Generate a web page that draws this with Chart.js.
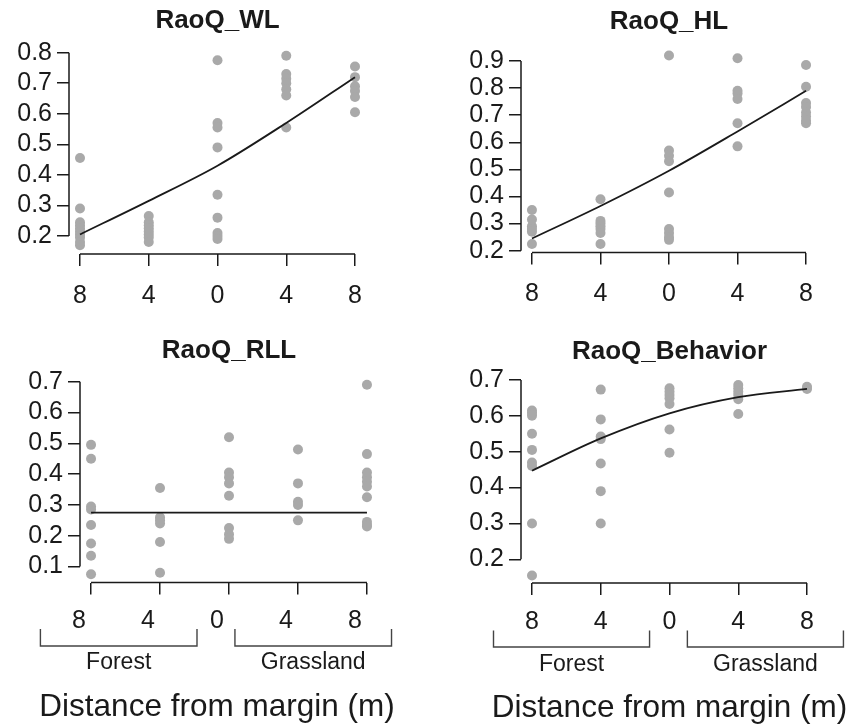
<!DOCTYPE html>
<html><head><meta charset="utf-8">
<script src="https://cdn.jsdelivr.net/npm/chart.js@4/dist/chart.umd.min.js"></script>
<style>
html,body{margin:0;padding:0;background:#fff;width:850px;height:728px;overflow:hidden}
.p{position:absolute}
canvas{display:block}
</style></head><body>
<div class="p" style="left:0;top:0"><canvas id="c1" width="425" height="310"></canvas></div>
<div class="p" style="left:425px;top:0"><canvas id="c2" width="425" height="310"></canvas></div>
<div class="p" style="left:0;top:310px"><canvas id="c3" width="425" height="418"></canvas></div>
<div class="p" style="left:425px;top:310px"><canvas id="c4" width="425" height="418"></canvas></div>
<script>
// ---- data ----
const positions = [1, 2, 3, 4, 5];
const xTickLabels = ['8', '4', '0', '4', '8'];
const groupLabels = ['Forest', 'Grassland'];
const forestSpan = [0.44, 2.71];
const grassSpan = [3.26, 5.53];
const axisTitle = 'Distance from margin (m)';

const wlTitle = 'RaoQ_WL';
const wlTicks = [0.2, 0.3, 0.4, 0.5, 0.6, 0.7, 0.8];
const wlRange = [0.141, 0.817];
const wlPoints = [
  [0.455, 0.29, 0.245, 0.235, 0.225, 0.215, 0.205, 0.195, 0.18, 0.17],
  [0.265, 0.245, 0.235, 0.225, 0.215, 0.205, 0.195, 0.18],
  [0.775, 0.57, 0.555, 0.49, 0.335, 0.26, 0.21, 0.2, 0.19],
  [0.79, 0.73, 0.715, 0.7, 0.68, 0.66, 0.555],
  [0.755, 0.72, 0.69, 0.675, 0.655, 0.605]
];
const wlFit = [0.205, 0.315, 0.43, 0.57, 0.72];

const hlTitle = 'RaoQ_HL';
const hlTicks = [0.2, 0.3, 0.4, 0.5, 0.6, 0.7, 0.8, 0.9];
const hlRange = [0.193, 0.948];
const hlPoints = [
  [0.35, 0.315, 0.29, 0.28, 0.27, 0.225],
  [0.39, 0.31, 0.3, 0.29, 0.28, 0.265, 0.225],
  [0.92, 0.57, 0.55, 0.53, 0.415, 0.28, 0.265, 0.25, 0.24],
  [0.91, 0.79, 0.78, 0.76, 0.67, 0.585],
  [0.885, 0.805, 0.745, 0.73, 0.71, 0.695, 0.68, 0.67]
];
const hlFit = [0.245, 0.365, 0.495, 0.64, 0.79];

const rllTitle = 'RaoQ_RLL';
const rllTicks = [0.1, 0.2, 0.3, 0.4, 0.5, 0.6, 0.7];
const rllRange = [0.048, 0.712];
const rllPoints = [
  [0.495, 0.45, 0.295, 0.285, 0.235, 0.175, 0.135, 0.075],
  [0.355, 0.26, 0.25, 0.24, 0.18, 0.08],
  [0.52, 0.405, 0.39, 0.37, 0.33, 0.225, 0.205, 0.19],
  [0.48, 0.37, 0.31, 0.3, 0.25],
  [0.69, 0.465, 0.405, 0.39, 0.375, 0.36, 0.325, 0.245, 0.235, 0.23]
];
const rllFit = [0.275, 0.275, 0.275, 0.275, 0.275];

const behTitle = 'RaoQ_Behavior';
const behTicks = [0.2, 0.3, 0.4, 0.5, 0.6, 0.7];
const behRange = [0.134, 0.707];
const behPoints = [
  [0.615, 0.608, 0.6, 0.55, 0.505, 0.47, 0.46, 0.3, 0.155],
  [0.673, 0.59, 0.542, 0.535, 0.467, 0.39, 0.3],
  [0.677, 0.667, 0.658, 0.649, 0.633, 0.562, 0.497],
  [0.686, 0.677, 0.667, 0.658, 0.646, 0.605],
  [0.681, 0.675]
];
const behFit = [0.447, 0.537, 0.607, 0.652, 0.675];

// ---- drawing ----
const FONT = "'Liberation Sans', Arial, Helvetica, sans-serif";
const INK = '#1a1a1a';
const DOT = '#a9a9a9';
const TITLE_SIZE = 26;
const TITLE_LH = TITLE_SIZE * 1.2;

const rAxes = {
  id: 'rAxes',
  beforeDatasetsDraw(chart, args, o) {
    const {ctx, chartArea} = chart;
    const xs = chart.scales.x, ys = chart.scales.y;
    ctx.save();
    ctx.strokeStyle = INK;
    ctx.lineWidth = 1.5;
    ctx.beginPath();
    ctx.moveTo(chartArea.left, ys.getPixelForValue(o.yTicks[0]));
    ctx.lineTo(chartArea.left, ys.getPixelForValue(o.yTicks[o.yTicks.length - 1]));
    ctx.moveTo(xs.getPixelForValue(positions[0]), chartArea.bottom);
    ctx.lineTo(xs.getPixelForValue(positions[positions.length - 1]), chartArea.bottom);
    ctx.stroke();
    ctx.restore();
  },
  afterDraw(chart, args, o) {
    if (!o.groups) return;
    const {ctx} = chart;
    const xs = chart.scales.x;
    const g = o.g;
    const px = v => xs.getPixelForValue(v) + g.shift;
    ctx.save();
    ctx.strokeStyle = '#444';
    ctx.lineWidth = 1.4;
    [forestSpan, grassSpan].forEach(span => {
      const a = px(span[0]), b = px(span[1]);
      ctx.beginPath();
      ctx.moveTo(a, g.brTop); ctx.lineTo(a, g.brBot); ctx.lineTo(b, g.brBot); ctx.lineTo(b, g.brTop);
      ctx.stroke();
    });
    ctx.fillStyle = INK;
    ctx.textAlign = 'center';
    ctx.textBaseline = 'middle';
    ctx.font = '23px ' + FONT;
    ctx.fillText(groupLabels[0], px((forestSpan[0] + forestSpan[1]) / 2), g.grpY);
    ctx.fillText(groupLabels[1], px((grassSpan[0] + grassSpan[1]) / 2), g.grpY);
    ctx.font = '31.5px ' + FONT;
    ctx.fillText(axisTitle, px(positions[2]), g.axY);
    ctx.restore();
  }
};

function makePanel(id, title, points, fit, yTicks, yRange, g, groups) {
  const pts = [];
  points.forEach((arr, i) => arr.forEach(v => pts.push({x: positions[i], y: v})));
  const fitData = fit.map((v, i) => ({x: positions[i], y: v}));
  const canvas = document.getElementById(id);
  const W = canvas.width, H = canvas.height;
  const tTop = g.titleY - TITLE_LH / 2;
  new Chart(canvas, {
    type: 'scatter',
    data: {
      datasets: [
        {type: 'line', data: fitData, borderColor: INK, borderWidth: 1.8, pointRadius: 0,
         cubicInterpolationMode: 'monotone', fill: false, order: 0, clip: false},
        {type: 'scatter', data: pts, pointRadius: 5, pointHoverRadius: 5,
         backgroundColor: DOT, borderWidth: 0, order: 1, clip: false}
      ]
    },
    options: {
      responsive: false,
      animation: false,
      events: [],
      layout: {padding: {left: 0, right: W - g.right, top: 0, bottom: 0}},
      plugins: {
        legend: {display: false},
        tooltip: {enabled: false},
        title: {
          display: true, text: title, fullSize: false, color: INK,
          font: {family: FONT, size: TITLE_SIZE, weight: 'bold', lineHeight: 1.2},
          padding: {top: tTop, bottom: g.top - TITLE_LH - tTop}
        },
        rAxes: {yTicks: yTicks, groups: groups, g: g}
      },
      scales: {
        x: {
          type: 'linear', min: 0.84, max: 5.16,
          afterBuildTicks: s => { s.ticks = positions.map(v => ({value: v})); },
          afterFit: s => { s.height = H - g.bottom; },
          ticks: {
            callback: (v, i) => xTickLabels[i], color: INK, autoSkip: false, maxRotation: 0,
            font: {family: FONT, size: 25}, padding: g.xPad, labelOffset: g.shift
          },
          grid: {drawOnChartArea: false, drawTicks: true, tickLength: 12, color: INK, lineWidth: 1.5},
          border: {display: false}
        },
        y: {
          type: 'linear', min: yRange[0], max: yRange[1],
          afterBuildTicks: s => { s.ticks = yTicks.map(v => ({value: v})); },
          afterFit: s => { s.width = g.left; },
          ticks: {
            callback: v => v.toFixed(1), color: INK, autoSkip: false,
            font: {family: FONT, size: 25}, padding: 5
          },
          grid: {drawOnChartArea: false, drawTicks: true, tickLength: 12, color: INK, lineWidth: 1.5},
          border: {display: false}
        }
      }
    },
    plugins: [rAxes]
  });
}

makePanel('c1', wlTitle, wlPoints, wlFit, wlTicks, wlRange,
  {left: 69, right: 366, top: 47.5, bottom: 254, titleY: 20.5, xPad: 15, shift: 0}, false);
makePanel('c2', hlTitle, hlPoints, hlFit, hlTicks, hlRange,
  {left: 96, right: 392, top: 48, bottom: 252.6, titleY: 22, xPad: 15, shift: 0}, false);
makePanel('c3', rllTitle, rllPoints, rllFit, rllTicks, rllRange,
  {left: 80, right: 378, top: 68, bottom: 272.6, titleY: 40.5, xPad: 12, shift: -12,
   brTop: 319, brBot: 336, grpY: 353, axY: 397}, true);
makePanel('c4', behTitle, behPoints, behFit, behTicks, behRange,
  {left: 96, right: 393, top: 67.4, bottom: 273, titleY: 42, xPad: 12, shift: 0,
   brTop: 320.5, brBot: 337, grpY: 355, axY: 398}, true);
</script>
</body></html>
